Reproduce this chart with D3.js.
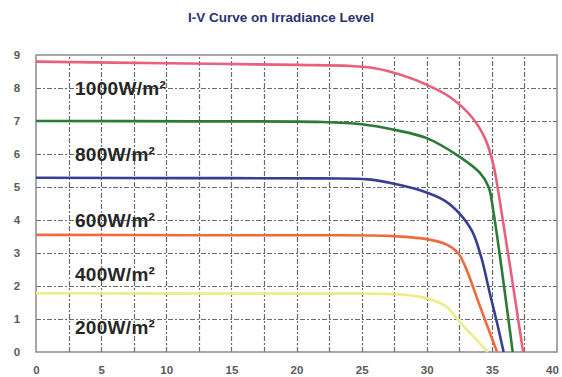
<!DOCTYPE html>
<html>
<head>
<meta charset="utf-8">
<script src="https://cdn.jsdelivr.net/npm/d3@7"></script>
<style>
  html, body { margin: 0; padding: 0; background: #fff; }
  svg { display: block; }
</style>
</head>
<body>
<svg id="chart" width="562" height="377"></svg>
<script>
// ---- data (voltage V, current A) ----
const seriesNames = ["1000W/m²", "800W/m²", "600W/m²", "400W/m²", "200W/m²"];
const iv1000 = [[0,8.8],[10,8.75],[20,8.7],[24,8.67],[26,8.6],[28,8.4],[30,8.1],[31.8,7.72],[33.5,7.1],[34.5,6.45],[35.1,5.7],[35.6,4.6],[37.4,0]];
const iv800  = [[0,7.0],[12,6.99],[22,6.97],[25,6.9],[27.4,6.74],[30,6.48],[32.5,5.92],[34.1,5.42],[34.75,5.0],[35.1,4.3],[36.6,0]];
const iv600  = [[0,5.28],[12,5.27],[22,5.26],[25.5,5.23],[27.5,5.1],[29.5,4.9],[31.4,4.58],[32.5,4.2],[33.5,3.65],[34.2,2.85],[34.8,1.85],[35.4,0.88],[35.9,0]];
const iv400  = [[0,3.55],[12,3.54],[22,3.54],[27,3.52],[30,3.42],[31.5,3.26],[32.4,3.0],[33.0,2.55],[34.1,1.37],[35.4,0]];
const iv200  = [[0,1.78],[12,1.77],[22,1.77],[27,1.76],[29,1.7],[30.5,1.57],[31.6,1.35],[32.4,0.97],[34.7,0]];
const xTicks = [0, 5, 10, 15, 20, 25, 30, 35, 40];
const yTicks = [0, 1, 2, 3, 4, 5, 6, 7, 8, 9];
const xGrid = [2.5, 5, 7.5, 10, 12.5, 15, 17.5, 20, 22.5, 25, 27.5, 30, 32.5, 35, 37.5];
const yGrid = [1, 2, 3, 4, 5, 6, 7, 8];
const titleText = "I-V Curve on Irradiance Level";

const series = [
  {name: seriesNames[0], data: iv1000, color: "#e8607e", labelY: 8.0},
  {name: seriesNames[1], data: iv800,  color: "#2b7a36", labelY: 6.0},
  {name: seriesNames[2], data: iv600,  color: "#383f92", labelY: 4.0},
  {name: seriesNames[3], data: iv400,  color: "#f06a3d", labelY: 2.35},
  {name: seriesNames[4], data: iv200,  color: "#ecec88", labelY: 0.75}
];

const svg = d3.select("#chart");
const x = d3.scaleLinear().domain([0, 40]).range([36, 557]);
const y = d3.scaleLinear().domain([0, 9]).range([352, 55]);
const px = v => Math.round(v) + 0.5;

// white background
svg.append("rect").attr("width", 562).attr("height", 377).attr("fill", "#ffffff");

// title
svg.append("text")
  .attr("x", 281).attr("y", 22)
  .attr("text-anchor", "middle")
  .attr("font-family", "Liberation Sans, Arial, sans-serif")
  .attr("font-weight", "bold")
  .attr("font-size", 13.5)
  .attr("fill", "#2b3170")
  .text(titleText);

// gridlines
const gridColor = "#6a6a6a";
const grid = svg.append("g").attr("class", "grid");
grid.selectAll("line.v").data(xGrid).enter().append("line").attr("class", "v")
  .attr("x1", d => px(x(d))).attr("x2", d => px(x(d)))
  .attr("y1", y(0)).attr("y2", y(9))
  .style("stroke", gridColor).style("stroke-width", "1.2px")
  .style("stroke-dasharray", "5 2 2 2");
grid.selectAll("line.h").data(yGrid).enter().append("line").attr("class", "h")
  .attr("x1", x(0)).attr("x2", x(40))
  .attr("y1", d => px(y(d))).attr("y2", d => px(y(d)))
  .style("stroke", gridColor).style("stroke-width", "1.2px")
  .style("stroke-dasharray", "5 2 2 2");

// frame
svg.append("rect")
  .attr("x", x(0)).attr("y", y(9))
  .attr("width", x(40) - x(0)).attr("height", y(0) - y(9))
  .attr("fill", "none").attr("stroke", "#8a8a8a").attr("stroke-width", 1.5);

// axes
const xAxis = svg.append("g").attr("transform", `translate(0,${y(0)})`)
  .call(d3.axisBottom(x).tickValues(xTicks).tickSize(0).tickPadding(14).tickFormat(d3.format("d")));
const yAxis = svg.append("g").attr("transform", `translate(${x(0)},0)`)
  .call(d3.axisLeft(y).tickValues(yTicks).tickSize(0).tickPadding(15).tickFormat(d3.format("d")));
[xAxis, yAxis].forEach(a => {
  a.select(".domain").remove();
  a.selectAll("text")
    .attr("font-family", "Liberation Sans, Arial, sans-serif")
    .attr("font-weight", "bold")
    .attr("font-size", 11.5)
    .attr("fill", "#5a5a5a");
});
yAxis.selectAll("text").attr("text-anchor", "middle").attr("dx", "-0.35em");
xAxis.selectAll(".tick").filter(d => d === 40).select("text").attr("dx", -5);

// curves
const line = d3.line().x(d => x(d[0])).y(d => y(d[1])).curve(d3.curveCatmullRom.alpha(0.5));
svg.append("g").selectAll("path").data(series).enter().append("path")
  .attr("d", d => line(d.data))
  .attr("fill", "none")
  .attr("stroke", d => d.color)
  .attr("stroke-width", 2.6)
  .attr("stroke-linejoin", "round");

// labels
svg.append("g").selectAll("text").data(series).enter().append("text")
  .attr("x", 75)
  .attr("y", d => y(d.labelY) + 7)
  .attr("font-family", "Liberation Sans, Arial, sans-serif")
  .attr("font-weight", "bold")
  .attr("font-size", 19)
  .attr("letter-spacing", 0.3)
  .attr("fill", "#262626")
  .text(d => d.name);
</script>
</body>
</html>
